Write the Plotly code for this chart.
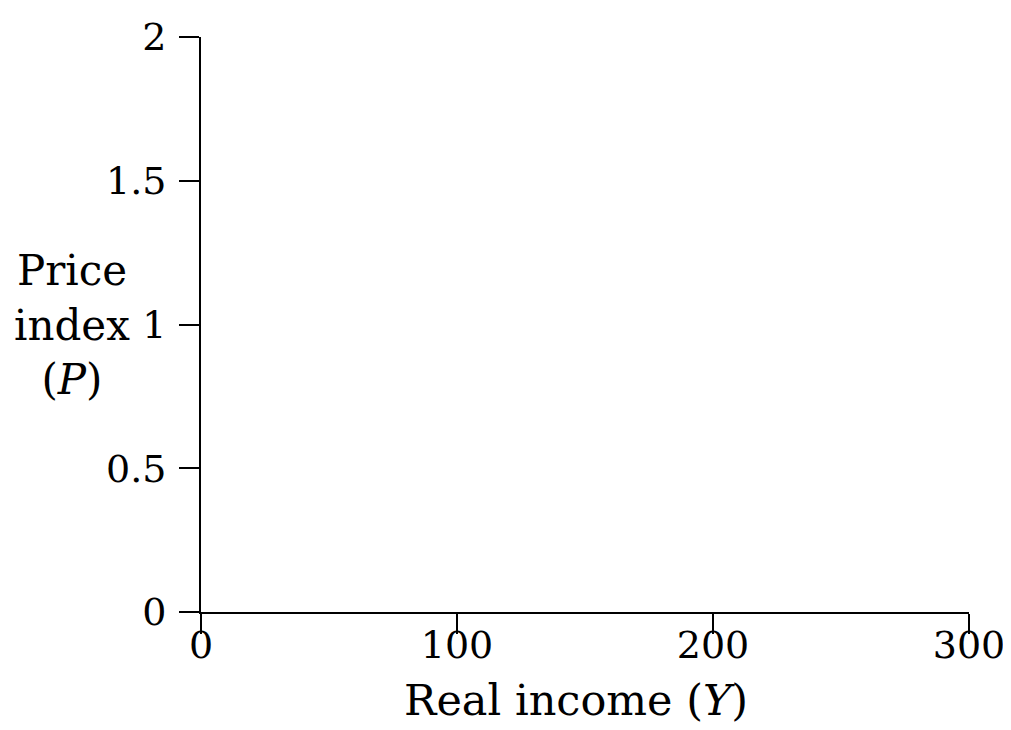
import plotly.graph_objects as go

x_ticks = [0, 100, 200, 300]
x_tick_labels = ["0", "100", "200", "300"]
y_ticks = [0, 0.5, 1, 1.5, 2]
y_tick_labels = ["0", "0.5", "1", "1.5", "2"]

FONT = "DejaVu Serif"

fig = go.Figure()
fig.add_trace(go.Scatter(x=[], y=[], mode="lines", showlegend=False))

axis_common = dict(
    showline=True, linecolor="black", linewidth=2,
    ticks="outside", ticklen=20, tickwidth=2, tickcolor="black",
    showgrid=False, zeroline=False, automargin=False,
    tickfont=dict(family=FONT, size=38, color="black"),
)

fig.update_xaxes(range=[0, 300], tickvals=x_ticks, ticktext=x_tick_labels,
                 ticklabelstandoff=-22, **axis_common)
fig.update_yaxes(range=[0, 2], tickvals=y_ticks, ticktext=y_tick_labels,
                 ticklabelstandoff=5, **axis_common)

fig.add_annotation(text="Real income (<i>Y</i>)", xref="paper", yref="paper",
                   x=0.488, y=-0.153, xanchor="center", yanchor="middle",
                   showarrow=False, font=dict(family=FONT, size=43, color="black"))
fig.add_annotation(text="Price<br>index<br>(<i>P</i>)", xref="paper", yref="y",
                   x=-0.168, y=1, xanchor="center", yanchor="middle", align="center",
                   showarrow=False, font=dict(family=FONT, size=42, color="black"))

# page body has an 8px margin, so the figure is sized/margined to compensate
fig.update_layout(
    width=1003, height=722,
    margin=dict(l=193, r=42, t=29, b=118),
    plot_bgcolor="white", paper_bgcolor="white",
)

fig.write_html("out.html")
